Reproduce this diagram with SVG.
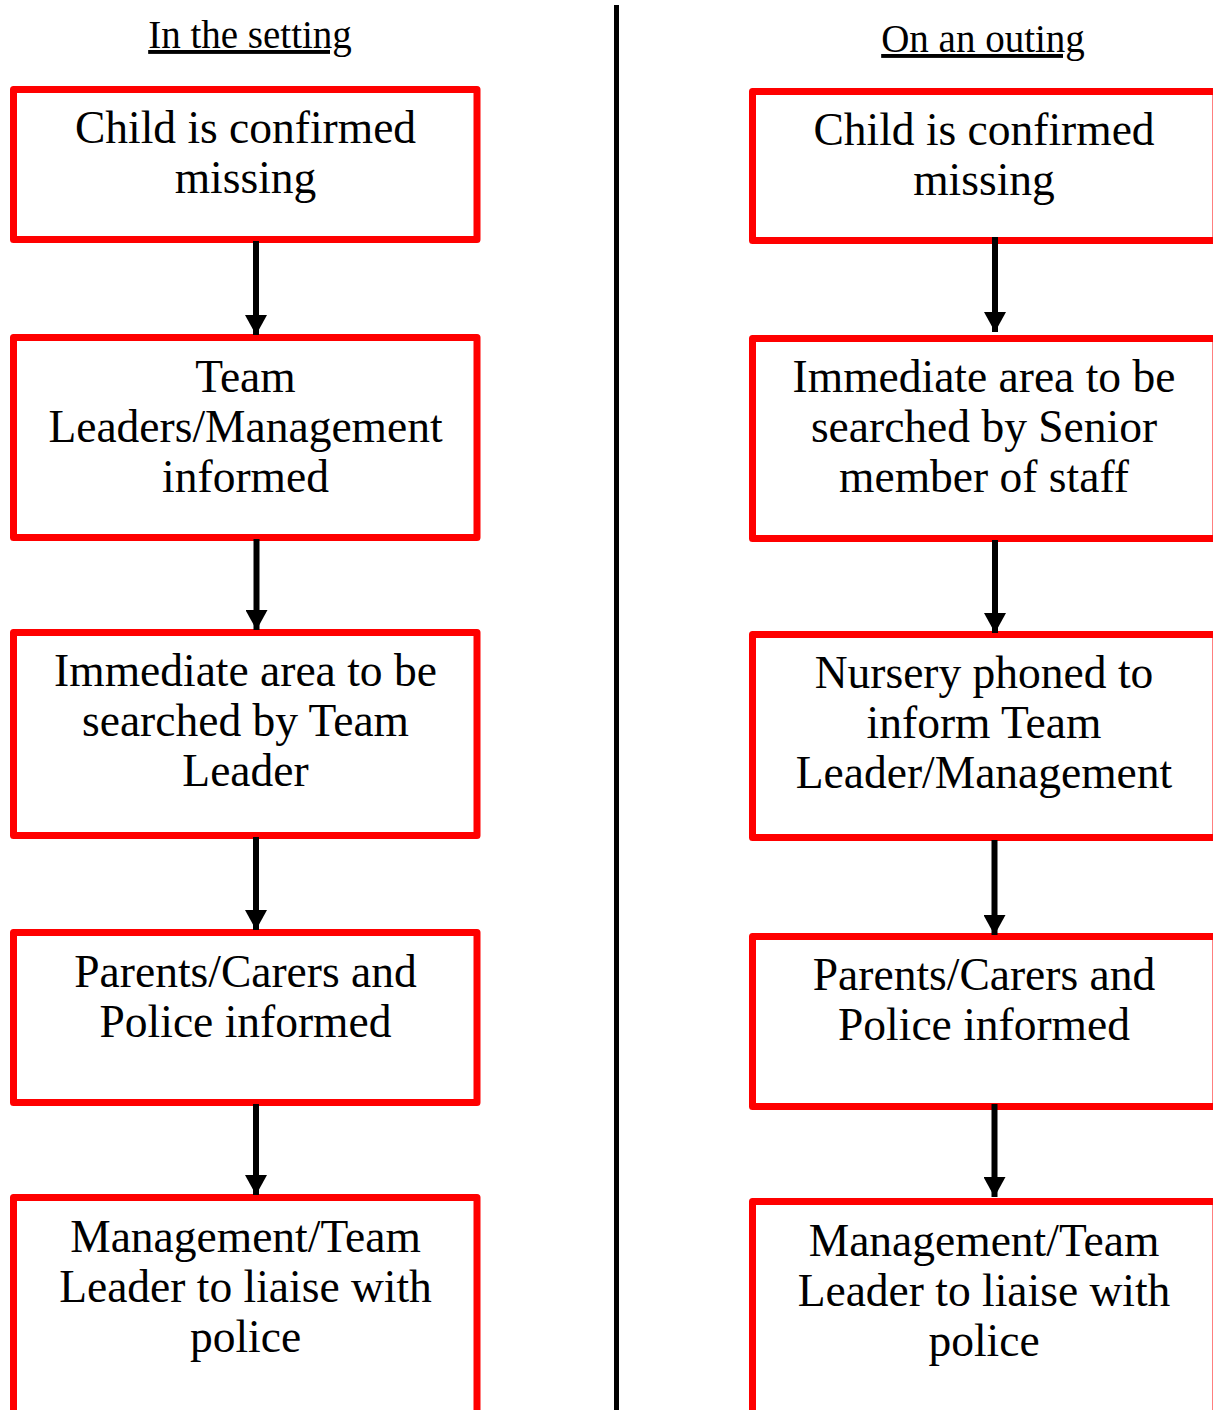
<svg xmlns="http://www.w3.org/2000/svg" width="1213" height="1410" viewBox="0 0 1213 1410">
<defs>
<style>
.box{fill:#fff;stroke:#ff0000;stroke-width:7;stroke-linejoin:round}
.t{font-family:"Liberation Serif","Times New Roman",serif;font-size:45.5px;fill:#000;text-anchor:middle}
.h{font-family:"Liberation Serif","Times New Roman",serif;font-size:39px;fill:#000;text-anchor:middle;text-decoration:underline}
.c{stroke:#000;stroke-width:6;fill:none}
</style>
<marker id="ah" markerUnits="userSpaceOnUse" markerWidth="20" markerHeight="22" refX="20" refY="11" orient="auto" viewBox="0 0 20 22">
<path d="M0,0 L20,11 L0,22 Z" fill="#000"/>
</marker>
</defs>
<rect width="1213" height="1410" fill="#fff"/>
<g id="titles">
<text class="h" x="250" y="48">In the setting</text>
<text class="h" x="983" y="52">On an outing</text>
</g>
<g id="divider"><line x1="616.5" y1="5" x2="616.5" y2="1410" stroke="#000" stroke-width="5"/></g>

<g id="L1"><rect class="box" x="13.5" y="89.5" width="463.5" height="150"/>
<text class="t" x="245.5" y="143">Child is confirmed</text><text class="t" x="245.5" y="193">missing</text></g>
<g id="L2"><rect class="box" x="13.5" y="337.5" width="463.5" height="200"/>
<text class="t" x="245.5" y="392">Team</text><text class="t" x="245.5" y="442">Leaders/Management</text><text class="t" x="245.5" y="492">informed</text></g>
<g id="L3"><rect class="box" x="13.5" y="632.5" width="463.5" height="203"/>
<text class="t" x="245.5" y="686">Immediate area to be</text><text class="t" x="245.5" y="736">searched by Team</text><text class="t" x="245.5" y="786">Leader</text></g>
<g id="L4"><rect class="box" x="13.5" y="932.5" width="463.5" height="170"/>
<text class="t" x="245.5" y="987">Parents/Carers and</text><text class="t" x="245.5" y="1037">Police informed</text></g>
<g id="L5"><rect class="box" x="13.5" y="1197.5" width="463.5" height="240"/>
<text class="t" x="245.5" y="1252">Management/Team</text><text class="t" x="245.5" y="1302">Leader to liaise with</text><text class="t" x="245.5" y="1352">police</text></g>

<g id="R1"><rect class="box" x="752.5" y="91.5" width="463.5" height="149"/>
<text class="t" x="984" y="145">Child is confirmed</text><text class="t" x="984" y="195">missing</text></g>
<g id="R2"><rect class="box" x="752.5" y="338.5" width="463.5" height="200"/>
<text class="t" x="984" y="392">Immediate area to be</text><text class="t" x="984" y="442">searched by Senior</text><text class="t" x="984" y="492">member of staff</text></g>
<g id="R3"><rect class="box" x="752.5" y="634.5" width="463.5" height="203"/>
<text class="t" x="984" y="688">Nursery phoned to</text><text class="t" x="984" y="738">inform Team</text><text class="t" x="984" y="788">Leader/Management</text></g>
<g id="R4"><rect class="box" x="752.5" y="936.5" width="463.5" height="170"/>
<text class="t" x="984" y="990">Parents/Carers and</text><text class="t" x="984" y="1040">Police informed</text></g>
<g id="R5"><rect class="box" x="752.5" y="1201.5" width="463.5" height="240"/>
<text class="t" x="984" y="1256">Management/Team</text><text class="t" x="984" y="1306">Leader to liaise with</text><text class="t" x="984" y="1356">police</text></g>

<g id="connectors">
<line class="c" x1="256" y1="241" x2="256" y2="335" marker-end="url(#ah)"/>
<line class="c" x1="256.5" y1="539" x2="256.5" y2="630" marker-end="url(#ah)"/>
<line class="c" x1="256" y1="837" x2="256" y2="930" marker-end="url(#ah)"/>
<line class="c" x1="256" y1="1104" x2="256" y2="1195" marker-end="url(#ah)"/>
<line class="c" x1="995" y1="237" x2="995" y2="332" marker-end="url(#ah)"/>
<line class="c" x1="995" y1="540" x2="995" y2="633" marker-end="url(#ah)"/>
<line class="c" x1="994.5" y1="840" x2="994.5" y2="935" marker-end="url(#ah)"/>
<line class="c" x1="994.5" y1="1104" x2="994.5" y2="1197" marker-end="url(#ah)"/>
</g>
</svg>
